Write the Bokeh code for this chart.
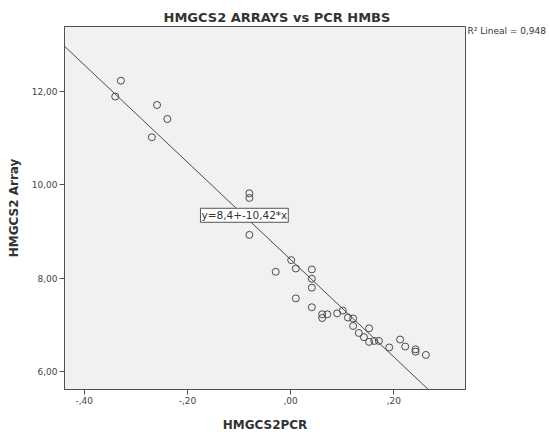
from bokeh.plotting import figure
from bokeh.models import Range1d, FixedTicker, Label, Slope, LinearAxis
from bokeh.embed import file_html
from bokeh.resources import INLINE

# HMGCS2 PCR (x) vs HMGCS2 Array (y)
x_pcr = [-0.329, -0.340, -0.259, -0.239, -0.269,
         -0.080, -0.080, -0.080, 0.001, -0.029, 0.010, 0.041, 0.041, 0.041,
         0.010, 0.041, 0.061, 0.061, 0.071, 0.090, 0.101, 0.111, 0.121, 0.121,
         0.132, 0.152, 0.142, 0.152, 0.162, 0.171,
         0.191, 0.212, 0.222, 0.242, 0.242, 0.262]
y_array = [12.23, 11.89, 11.71, 11.41, 11.02,
           9.82, 9.72, 8.93, 8.39, 8.14, 8.21, 8.19, 7.99, 7.80,
           7.57, 7.38, 7.23, 7.15, 7.23, 7.25, 7.31, 7.16, 7.14, 6.98,
           6.83, 6.93, 6.74, 6.64, 6.66, 6.66,
           6.52, 6.69, 6.54, 6.48, 6.43, 6.36]

fit_intercept = 8.4
fit_slope = -10.42
fit_label = "y=8,4+-10,42*x"
r2_label = "R\u00b2 Lineal = 0,948"
title_text = "HMGCS2 ARRAYS vs PCR HMBS"
x_label = "HMGCS2PCR"
y_label = "HMGCS2 Array"

x_ticks = [-0.4, -0.2, 0.0, 0.2]
x_tick_labels = ["-,40", "-,20", ",00", ",20"]
y_ticks = [6, 8, 10, 12]
y_tick_labels = ["6,00", "8,00", "10,00", "12,00"]

FONT = "DejaVu Sans"
DARK = "#505050"
TEXT = "#333333"

p = figure(frame_width=401, frame_height=363,
           min_border_left=64, min_border_right=85,
           min_border_top=26, min_border_bottom=43,
           x_range=Range1d(-0.4383, 0.3388), y_range=Range1d(5.62, 13.39),
           output_backend="svg", toolbar_location=None,
           background_fill_color="#f1f1f1", border_fill_color="white",
           title=title_text)

p.title.align = "left"
p.title.offset = 99
p.title.standoff = 4
p.title.text_font = FONT
p.title.text_font_size = "13px"
p.title.text_font_style = "bold"
p.title.text_color = TEXT

p.grid.visible = False
p.outline_line_color = DARK
p.outline_line_width = 1

for ax, ticks, labels in ((p.xaxis[0], x_ticks, x_tick_labels),
                          (p.yaxis[0], y_ticks, y_tick_labels)):
    ax.ticker = FixedTicker(ticks=ticks)
    ax.major_label_overrides = dict(zip(ticks, labels))
    ax.major_tick_out = 5
    ax.major_tick_in = 0
    ax.minor_tick_out = 0
    ax.minor_tick_in = 0
    ax.axis_line_color = DARK
    ax.major_tick_line_color = DARK
    ax.major_label_text_font = FONT
    ax.major_label_text_font_size = "9px"
    ax.major_label_text_color = "#444444"
    ax.major_label_standoff = 2
    ax.axis_label_text_font = FONT
    ax.axis_label_text_font_size = "12px"
    ax.axis_label_text_font_style = "bold"
    ax.axis_label_text_color = TEXT

p.xaxis.axis_label = x_label
p.xaxis.axis_label_standoff = 11
p.yaxis.axis_label = y_label
p.yaxis.axis_label_standoff = 8

# R-squared note placed at the right of the frame via a label-only axis
r2_y = 13.30
r2_axis = LinearAxis(ticker=FixedTicker(ticks=[r2_y]),
                     major_label_overrides={r2_y: r2_label},
                     axis_line_color=None, major_tick_line_color=None,
                     minor_tick_line_color=None, major_tick_out=0,
                     major_tick_in=0, major_label_standoff=2,
                     major_label_text_font=FONT, major_label_text_font_size="9px",
                     major_label_text_color=TEXT)
p.add_layout(r2_axis, "right")

p.add_layout(Slope(gradient=fit_slope, y_intercept=fit_intercept,
                   line_color="#4a4a4a", line_width=1))

p.scatter(x_pcr, y_array, marker="circle", size=7, fill_color=None,
          line_color="#4a4a4a", line_width=1)

p.add_layout(Label(x=-0.0897, y=9.349, text=fit_label, text_align="center",
                   text_baseline="middle", text_font=FONT, text_font_size="10.5px",
                   text_color=TEXT, background_fill_color="white",
                   border_line_color="#555555", border_line_width=1, padding=1))

open("out.html", "w").write(file_html(p, INLINE))
